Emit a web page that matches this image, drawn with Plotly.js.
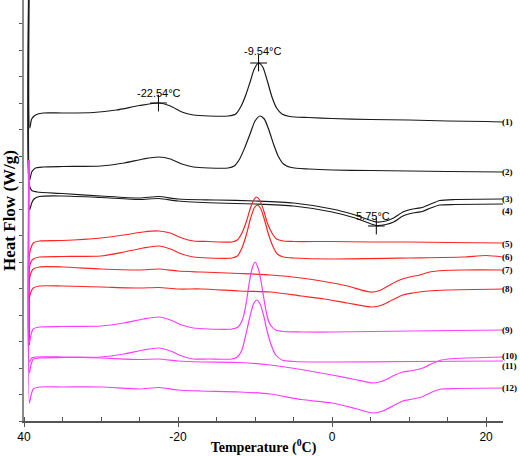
<!DOCTYPE html>
<html>
<head>
<meta charset="utf-8">
<script src="https://cdn.plot.ly/plotly-3.0.1.min.js"></script>
<style>html,body{margin:0;padding:0;background:#fff;}#chart{width:520px;height:456px;}</style>
</head>
<body>
<div id="chart"></div>
<script>
// ---- data (temperature in °C, heat flow in arbitrary offset units) ----
const c1x = [-39.35,-39.25,-39.0,-38.5,-37.5,-35,-31,-28,-25,-22.54,-21,-19.5,-18,-16,-13.5,-12.5,-11.8,-11.2,-10.6,-10.1,-9.54,-9.0,-8.4,-7.8,-7.2,-6.5,-5.5,-3,0,5,10,15,20,22.2];
const c1y = [470,293,302,306,308,308,308.5,311,315.5,318,315,309,306,305,305,307,315,326,340,352,358,354,340,324,313,307,304.5,303.5,302.5,301.5,301,300,299.5,299];
const c2x = [-39.35,-39.25,-39.0,-38.5,-37.5,-35,-30,-27,-24.5,-22.5,-21,-19.5,-18,-16,-13.5,-12.7,-12,-11.3,-10.6,-10,-9.35,-8.8,-8.2,-7.6,-7,-6.3,-5.3,-3,0,5,10,15,22.2];
const c2y = [470,241,249,253,254,254.5,255,258,262,264,262,257,254,253,253,255,262,274,288,300,305,302,291,277,265,257,253.5,252,251,250.5,250,249.5,249];
const c3x = [-39.35,-39.3,-39.0,-38.3,-35,-30,-25,-22.5,-20,-15,-10,-5,0,3,5.75,7,8,9.2,10.5,11.7,12.8,14,16,22.2];
const c3y = [470,236,230.5,229,227.5,225,223,224.5,222,221,220,218,212,206,199,200,203,209,212,213.5,217,220.5,221.5,222];
const c4x = [-39.35,-39.28,-39.0,-38.7,-38,-35,-30,-25,-22.5,-20,-15,-10,-5,0,3,5.75,7,8,9.2,10.5,11.7,12.8,14,16,22.2];
const c4y = [470,211,218,222,224.5,225,223.5,221.5,222.5,220,218,217,215,209,203,195.5,196.5,199,205,208,209.5,213,216,216.5,217];
const c5x = [-39.35,-39.3,-39.1,-38.8,-38,-35,-30,-27,-24.5,-22.5,-21,-19.5,-18,-16,-13,-12.3,-11.7,-11.1,-10.6,-10.1,-9.8,-9.4,-8.9,-8.4,-7.8,-7.2,-6.3,-5,0,5,10,15,22.2];
const c5y = [76,166,173,178,180,180.5,183,186,189,190,188,183,180,179.5,179,181,188,200,213,222,224,221,211,198,188,182,180,179.5,179.5,179,179,178.5,178];
const c6x = [-39.35,-39.3,-39.1,-38.8,-38,-35,-30,-27,-24.5,-22.5,-21,-19.5,-18,-16,-13,-12.3,-11.7,-11.1,-10.6,-10.1,-9.7,-9.3,-8.8,-8.3,-7.7,-7.1,-6.3,-5,0,10,17,20,22.2];
const c6y = [76,153,159,162,164,164.5,165,169,173,175,172,167,164,163,163,165,173,187,202,213,216,213,202,188,175,167,164,163,162,163,164,165.5,164];
const c7x = [-39.35,-39.3,-39.1,-38.8,-38,-35,-30,-25,-22.5,-20,-17,-12,-8,-4,-1,2,4.9,6.2,7.5,8.8,10.1,11.4,12.7,14.5,17,22.2];
const c7y = [76,141,148,152,154,154,152,151,152,150,149,147.5,146,143,139.5,135,129,130.5,136,141,144,146,149,150.5,151,151];
const c8x = [-39.35,-39.3,-39.1,-38.8,-38,-35,-30,-25,-22.5,-20,-17,-12,-8,-4,-1,2,5.3,6.5,7.8,9.2,10.5,12.5,15,22.2];
const c8y = [76,123,129,133,135,135,134,133,133.5,132,132,130,129,125,122,118,114,116,121,126,128,130,131,132];
const c9x = [-39.35,-39.3,-39.1,-38.8,-38,-35,-30,-27,-24.5,-22.5,-21,-19.5,-18,-16,-13,-12.2,-11.6,-11.1,-10.8,-10.4,-10.0,-9.6,-9.2,-8.8,-8.4,-8.0,-7.3,-6.3,-4,0,10,22.2];
const c9y = [261,78,86,92,94,94.5,95,98,102,104,101,96,93,92,92,94,102,120,136,152,159,153,139,120,104,96,91,89.5,89,89,90,91];
const c10x = [-39.35,-39.3,-39.1,-38.8,-38,-35,-30,-27,-24.5,-22.5,-21,-19.5,-18,-16,-13,-12.3,-11.7,-11.2,-10.7,-10.2,-9.8,-9.4,-8.9,-8.4,-7.9,-7.3,-6.5,-5,0,10,22.2];
const c10y = [261,48,56,62,63,63.5,64,67,71,73,70,65,62,62,62,64,71,86,103,117,121,118,106,89,76,66,61,59.5,59,59.5,60];
const c11x = [-39.35,-39.3,-39.0,-38.5,-35,-30,-25,-22.5,-20,-17,-12,-8,-4,0,3,5.3,6.6,7.9,9.2,10.5,11.8,13,14.2,16,22.2];
const c11y = [261,59,63,64,64,63,61.5,62,60,59,58.5,56,51.5,46,41.5,38,40,45,49,50.5,53,57.5,61,62.5,64];
const c12x = [-39.35,-39.3,-39.1,-38.8,-38,-35,-30,-25,-22.5,-20,-17,-12,-8,-4,0,3,5.3,6.6,7.9,9.2,10.5,11.8,13,14.2,16,22.2];
const c12y = [261,18,25,32,34,34,34,32,33.5,31,30,29,27,21.5,18,12.5,8,10,15,20,22,24.5,29,32,32.5,33];

const curveLabels = ['(1)','(2)','(3)','(4)','(5)','(6)','(7)','(8)','(9)','(10)','(11)','(12)'];
const curveLabelY = [299,249,222,210,177,164,151,132,91,65,55,33];

const peakTemps = [-22.54, -9.54, 5.75];
const peakFlow  = [318, 358, 195];
const peakTexts = ['-22.54°C', '-9.54°C', '5.75°C'];

const xTickVals = [-40, -20, 0, 20];
const xTickText = ['40', '-20', '0', '20'];

// ---- styling ----
const BLACK = '#1a1a1a', RED = '#ff2424', MAG = '#ff3cff';
const curves = [
  [c1x,c1y,BLACK],[c2x,c2y,BLACK],[c3x,c3y,BLACK],[c4x,c4y,BLACK],
  [c5x,c5y,RED],[c6x,c6y,RED],[c7x,c7y,RED],[c8x,c8y,RED],
  [c9x,c9y,MAG],[c10x,c10y,MAG],[c11x,c11y,MAG],[c12x,c12y,MAG]
];
const traces = curves.map((c, i) => ({
  type: 'scatter', mode: 'lines', x: c[0], y: c[1], name: curveLabels[i],
  line: {color: c[2], width: 1.2, shape: 'spline', smoothing: 0.7},
  hoverinfo: 'skip'
}));
traces.push({
  type: 'scatter', mode: 'markers', x: peakTemps, y: peakFlow,
  marker: {symbol: 'cross-thin', size: 12, line: {color: '#000', width: 1}},
  hoverinfo: 'skip'
});

const annotations = [];
curveLabels.forEach((t, i) => annotations.push({
  xref: 'paper', yref: 'y', x: 1, y: curveLabelY[i], xanchor: 'left', yanchor: 'middle',
  xshift: -2, borderpad: 0,
  text: '<b>' + t + '</b>', showarrow: false,
  font: {family: 'Liberation Serif, Times New Roman, serif', size: 9, color: '#000'}
}));
const peakLabelOffsets = [[0.04, 10.5], [0.54, 12], [-0.49, 10.5]];
peakTexts.forEach((t, i) => annotations.push({
  xref: 'x', yref: 'y', x: peakTemps[i] + peakLabelOffsets[i][0], y: peakFlow[i] + peakLabelOffsets[i][1],
  xanchor: 'center', yanchor: 'middle', text: t, showarrow: false,
  font: {family: 'Liberation Sans, Arial, sans-serif', size: 11, color: '#000'}
}));

const layout = {
  width: 520, height: 456,
  margin: {l: 24, r: 17, t: 0, b: 35, pad: 0},
  paper_bgcolor: '#fff', plot_bgcolor: '#fff',
  showlegend: false,
  font: {family: 'Liberation Sans, Arial, sans-serif', size: 12, color: '#000'},
  xaxis: {
    range: [-40, 22.2], tickmode: 'array', tickvals: xTickVals, ticktext: xTickText,
    ticks: 'outside', ticklen: 4, tickcolor: '#555', tickwidth: 1,
    minor: {tickmode: 'linear', tick0: -40, dtick: 5, ticks: 'inside', ticklen: 4, tickcolor: '#555', tickwidth: 1, showgrid: false},
    showline: true, linecolor: '#555', linewidth: 1.5, showgrid: false, zeroline: false,
    tickfont: {family: 'Liberation Sans, Arial, sans-serif', size: 12, color: '#000'},
    title: {text: '<b>Temperature (<sup>0</sup>C)</b>', standoff: 2,
      font: {family: 'Liberation Serif, Times New Roman, serif', size: 14, color: '#000'}}
  },
  yaxis: {
    range: [0, 421], tickmode: 'linear', tick0: 0, dtick: 26.5,
    ticks: 'outside', ticklen: 3, tickcolor: '#555', tickwidth: 1,
    showticklabels: false, showline: true, linecolor: '#8a8a8a', linewidth: 2,
    showgrid: false, zeroline: false,
    title: {text: '<b>Heat Flow (W/g)</b>', standoff: 1,
      font: {family: 'Liberation Serif, Times New Roman, serif', size: 17, color: '#000'}}
  },
  annotations: annotations
};

Plotly.newPlot('chart', traces, layout, {staticPlot: true, displayModeBar: false});
</script>
</body>
</html>
